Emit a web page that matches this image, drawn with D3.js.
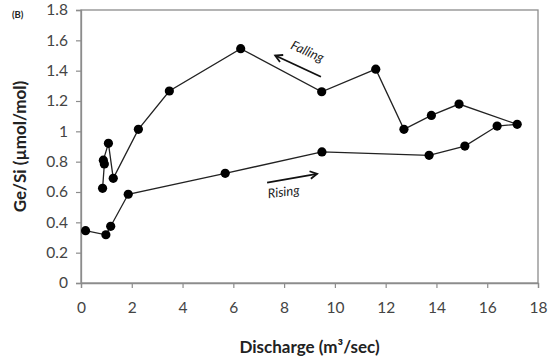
<!DOCTYPE html>
<html><head><meta charset="utf-8">
<script src="https://cdn.jsdelivr.net/npm/d3@7"></script>
<style>body{margin:0;background:#fff}</style>
</head><body>
<svg id="chart" width="550" height="360"></svg>
<script>
// Discharge (m3/sec) and Ge/Si (umol/mol), in sampling order (rising then falling limb)
const discharge = [0.18, 0.98, 1.17, 1.86, 5.68, 9.49, 13.71, 15.12, 16.39, 17.18,
                   14.89, 13.80, 12.72, 11.61, 9.48, 6.29, 3.48, 2.26, 1.27, 1.08, 0.88, 0.92, 0.85];
const geSi = [0.345, 0.318, 0.374, 0.585, 0.723, 0.864, 0.842, 0.903, 1.035, 1.046,
              1.18, 1.105, 1.013, 1.41, 1.261, 1.545, 1.266, 1.013, 0.69, 0.921, 0.81, 0.785, 0.624];
const xTicks = [0, 2, 4, 6, 8, 10, 12, 14, 16, 18];
const yTicks = [0, 0.2, 0.4, 0.6, 0.8, 1, 1.2, 1.4, 1.6, 1.8];
const xTitle = "Discharge (m³/sec)";
const yTitle = "Ge/Si (µmol/mol)";
const panel = "(B)";
const annotations = [{text: "Falling", dir: -1}, {text: "Rising", dir: 1}];

const svg = d3.select("#chart");
const L = 81, R = 538, T = 10, B = 283;
const x = d3.scaleLinear().domain([0, 18]).range([L, R]);
const y = d3.scaleLinear().domain([0, 1.8]).range([B, T]);
const font = "Lato, 'Open Sans', sans-serif";
const axisCol = "#8c8c8c";

// frame
svg.append("rect").attr("x", L).attr("y", T).attr("width", R - L).attr("height", B - T)
  .attr("fill", "none").attr("stroke", axisCol).attr("stroke-width", 1.3);

const xa = svg.append("g").attr("transform", `translate(0,${B})`)
  .call(d3.axisBottom(x).tickValues(xTicks).tickSize(5).tickPadding(14).tickFormat(d3.format("d")));
const ya = svg.append("g").attr("transform", `translate(${L},0)`)
  .call(d3.axisLeft(y).tickValues(yTicks).tickSize(5).tickPadding(8).tickFormat(d => d3.format("~g")(d)));
[xa, ya].forEach(a => {
  a.select(".domain").attr("stroke", axisCol).attr("stroke-width", 1.3);
  a.selectAll(".tick line").attr("stroke", axisCol).attr("stroke-width", 1.2);
  a.selectAll(".tick text").attr("fill", "#444").style("font-family", font).style("font-size", "15.5px");
});

const pts = discharge.map((d, i) => [d, geSi[i]]);
svg.append("path").datum(pts)
  .attr("d", d3.line().x(d => x(d[0])).y(d => y(d[1])))
  .attr("fill", "none").attr("stroke", "#222").attr("stroke-width", 1.3);
svg.append("g").selectAll("circle").data(pts).join("circle")
  .attr("cx", d => x(d[0])).attr("cy", d => y(d[1])).attr("r", 4.6).attr("fill", "#000");

// titles
svg.append("text").attr("x", (L + R) / 2).attr("y", 353).attr("text-anchor", "middle")
  .style("font-family", font).style("font-weight", "bold").style("font-size", "17px").attr("fill", "#222")
  .text(xTitle);
svg.append("text").attr("transform", `translate(26,${(T + B) / 2}) rotate(-90)`).attr("text-anchor", "middle")
  .style("font-family", font).style("font-weight", "bold").style("font-size", "17px").attr("fill", "#222")
  .text(yTitle);
svg.append("text").attr("x", 12).attr("y", 18)
  .style("font-family", font).style("font-weight", "bold").style("font-size", "9.5px").attr("fill", "#222")
  .text(panel);

// annotations: arrows
function arrow(x1, y1, x2, y2) {
  const g = svg.append("g").attr("stroke", "#111").attr("stroke-width", 1.8).attr("fill", "none");
  g.append("line").attr("x1", x1).attr("y1", y1).attr("x2", x2).attr("y2", y2);
  const a = Math.atan2(y2 - y1, x2 - x1), h = 8, w = 0.5;
  g.append("path").attr("d",
    `M${x2 - h * Math.cos(a - w)},${y2 - h * Math.sin(a - w)}L${x2},${y2}L${x2 - h * Math.cos(a + w)},${y2 - h * Math.sin(a + w)}`);
}
// Falling
arrow(x(9.45), y(1.36), x(7.65), y(1.50));
svg.append("text").attr("transform", `translate(${x(8.85)},${y(1.5)}) rotate(24)`).attr("text-anchor", "middle")
  .style("font-family", font).style("font-style", "italic").style("font-size", "13px").attr("fill", "#222")
  .text(annotations[0].text);
// Rising
arrow(x(7.33), y(0.662), x(9.3), y(0.72));
svg.append("text").attr("transform", `translate(${x(8.0)},${y(0.572)}) rotate(-7)`).attr("text-anchor", "middle")
  .style("font-family", font).style("font-style", "italic").style("font-size", "13px").attr("fill", "#222")
  .text(annotations[1].text);
</script>
</body></html>
